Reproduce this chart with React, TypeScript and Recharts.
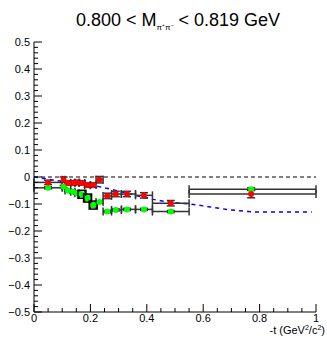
import React from "react";
import {
  ComposedChart,
  Scatter,
  Line,
  XAxis,
  YAxis,
  ErrorBar,
  ReferenceLine,
} from "recharts";

// bin centres and edges in -t
const tCenter = [0.05, 0.105, 0.12, 0.138, 0.152, 0.17, 0.19, 0.21, 0.232, 0.26, 0.29, 0.33, 0.39, 0.485, 0.77];
const binLo = [0.0, 0.1, 0.11, 0.13, 0.145, 0.16, 0.18, 0.2, 0.22, 0.245, 0.275, 0.31, 0.36, 0.42, 0.55];
const binHi = [0.1, 0.11, 0.13, 0.145, 0.16, 0.18, 0.2, 0.22, 0.245, 0.275, 0.31, 0.36, 0.42, 0.55, 1.0];

const redVals = [-0.02, -0.01, -0.022, -0.022, -0.02, -0.022, -0.03, -0.03, -0.01, -0.07, -0.063, -0.063, -0.068, -0.097, -0.063];
const redErr = [0.008, 0.01, 0.008, 0.008, 0.008, 0.008, 0.008, 0.008, 0.012, 0.01, 0.01, 0.01, 0.01, 0.01, 0.014];

const greenVals = [-0.04, -0.035, -0.05, -0.055, -0.06, -0.064, -0.078, -0.104, -0.093, -0.128, -0.122, -0.12, -0.12, -0.128, -0.045];
const greenErr = [0.004, 0.004, 0.004, 0.004, 0.004, 0.006, 0.006, 0.006, 0.004, 0.004, 0.004, 0.004, 0.004, 0.004, 0.005];
const greenBoxed = [5, 6, 7];

// model curve (blue dashed)
const curveT = [0, 0.05, 0.1, 0.15, 0.2, 0.25, 0.3, 0.35, 0.4, 0.45, 0.5, 0.55, 0.6, 0.65, 0.7, 0.75, 0.8, 0.85, 0.9, 0.95, 0.985];
const curveVals = [0, -0.008, -0.017, -0.024, -0.03, -0.04, -0.052, -0.065, -0.078, -0.088, -0.095, -0.1, -0.107, -0.115, -0.122, -0.127, -0.13, -0.13, -0.13, -0.13, -0.13];

const xMajor = [0, 0.2, 0.4, 0.6, 0.8, 1];
const xLabels = ["0", "0.2", "0.4", "0.6", "0.8", "1"];
const yMajor = [-0.5, -0.4, -0.3, -0.2, -0.1, 0, 0.1, 0.2, 0.3, 0.4, 0.5];
const yLabels = ["−0.5", "−0.4", "−0.3", "−0.2", "−0.1", "0", "0.1", "0.2", "0.3", "0.4", "0.5"];

const W = 327;
const H = 337;
const PLOT_LEFT = 34;
const PLOT_BOTTOM = 312;
const FONT = "'Liberation Sans', Arial, Helvetica, sans-serif";

function withMinor(major: number[], n: number) {
  const out: number[] = [];
  for (let i = 0; i < major.length - 1; i++) {
    const step = (major[i + 1] - major[i]) / n;
    for (let k = 0; k < n; k++) out.push(Number((major[i] + k * step).toFixed(4)));
  }
  out.push(major[major.length - 1]);
  return out;
}

const xTicks = withMinor(xMajor, 4);
const yTicks = withMinor(yMajor, 5);

const redData = tCenter.map((t, i) => ({
  t,
  v: redVals[i],
  ex: [t - binLo[i], binHi[i] - t],
  ey: redErr[i],
}));
const greenData = tCenter.map((t, i) => ({
  t,
  v: greenVals[i],
  ex: [t - binLo[i], binHi[i] - t],
  ey: greenErr[i],
  i,
}));
const curveData = curveT.map((t, i) => ({ t, v: curveVals[i] }));

const findMajor = (arr: number[], v: number) => arr.findIndex((m) => Math.abs(m - v) < 1e-6);

const XTick = (props: any) => {
  const { x, payload } = props;
  const idx = findMajor(xMajor, payload.value);
  const len = idx >= 0 ? 8 : 4;
  return (
    <g>
      <line x1={x} x2={x} y1={PLOT_BOTTOM} y2={PLOT_BOTTOM - len} stroke="#000" />
      {idx >= 0 && (
        <text x={x} y={PLOT_BOTTOM + 10} textAnchor="middle" fontSize={11} fontFamily={FONT} fill="#000">
          {xLabels[idx]}
        </text>
      )}
    </g>
  );
};

const YTick = (props: any) => {
  const { y, payload } = props;
  const idx = findMajor(yMajor, payload.value);
  const len = idx >= 0 ? 8 : 4;
  return (
    <g>
      <line x1={PLOT_LEFT} x2={PLOT_LEFT + len} y1={y} y2={y} stroke="#000" />
      {idx >= 0 && (
        <text x={PLOT_LEFT - 4} y={y + 4} textAnchor="end" fontSize={11} fontFamily={FONT} fill="#000">
          {yLabels[idx]}
        </text>
      )}
    </g>
  );
};

const RedDot = (props: any) => {
  const { cx, cy } = props;
  return <circle cx={cx} cy={cy} r={3} fill="#ff0000" />;
};

const GreenDot = (props: any) => {
  const { cx, cy, payload } = props;
  const boxed = greenBoxed.includes(payload.i);
  return (
    <g>
      {boxed && <rect x={cx - 4} y={cy - 4} width={8} height={8} fill="none" stroke="#000" strokeWidth={1.5} />}
      <circle cx={cx} cy={cy} r={3} fill="#00ff00" />
    </g>
  );
};

export default function App() {
  return (
    <div style={{ position: "absolute", left: 0, top: 0, width: W, height: H, background: "#fff" }}>
      <ComposedChart width={W} height={H} margin={{ top: 42, right: 11, bottom: 0, left: 0 }}>
        <XAxis
          xAxisId={0}
          dataKey="t"
          type="number"
          domain={[0, 1]}
          ticks={xTicks}
          interval={0}
          height={25}
          tickLine={false}
          axisLine={{ stroke: "#000" }}
          tick={<XTick />}
          allowDataOverflow
        />
        <XAxis xAxisId="top" orientation="top" type="number" domain={[0, 1]} height={0} tick={false} tickLine={false} axisLine={{ stroke: "#000" }} />
        <YAxis
          yAxisId={0}
          type="number"
          domain={[-0.5, 0.5]}
          ticks={yTicks}
          interval={0}
          width={34}
          tickLine={false}
          axisLine={{ stroke: "#000" }}
          tick={<YTick />}
          allowDataOverflow
        />
        <YAxis yAxisId="right" orientation="right" type="number" domain={[-0.5, 0.5]} width={0} tick={false} tickLine={false} axisLine={{ stroke: "#000" }} />
        <ReferenceLine y={0} stroke="#000" strokeDasharray="4 3" />
        <Line
          data={curveData}
          dataKey="v"
          type="monotone"
          stroke="#0000ff"
          strokeWidth={1.5}
          strokeDasharray="4 4"
          dot={false}
          isAnimationActive={false}
        />
        <Scatter data={greenData} dataKey="v" shape={<GreenDot />} isAnimationActive={false}>
          <ErrorBar dataKey="ex" direction="x" width={4} stroke="#333" strokeWidth={1.5} />
          <ErrorBar dataKey="ey" direction="y" width={4} stroke="#333" />
        </Scatter>
        <Scatter data={redData} dataKey="v" shape={<RedDot />} isAnimationActive={false}>
          <ErrorBar dataKey="ex" direction="x" width={4} stroke="#333" strokeWidth={1.5} />
          <ErrorBar dataKey="ey" direction="y" width={4} stroke="#333" />
        </Scatter>
      </ComposedChart>
      <svg width={W} height={H} style={{ position: "absolute", left: 0, top: 0, pointerEvents: "none" }}>
        <text x={178} y={26} textAnchor="middle" fontSize={18} fontFamily={FONT} fill="#000">
          0.800 &lt; M
          <tspan dy={4} fontSize={8}>π⁺π⁻</tspan>
          <tspan dy={-4}> &lt; 0.819 GeV</tspan>
        </text>
        <text x={325} y={334} textAnchor="end" fontSize={11} fontFamily={FONT} fill="#000">
          -t (GeV
          <tspan dy={-4} fontSize={7}>2</tspan>
          <tspan dy={4}>/c</tspan>
          <tspan dy={-4} fontSize={7}>2</tspan>
          <tspan dy={4}>)</tspan>
        </text>
      </svg>
    </div>
  );
}
